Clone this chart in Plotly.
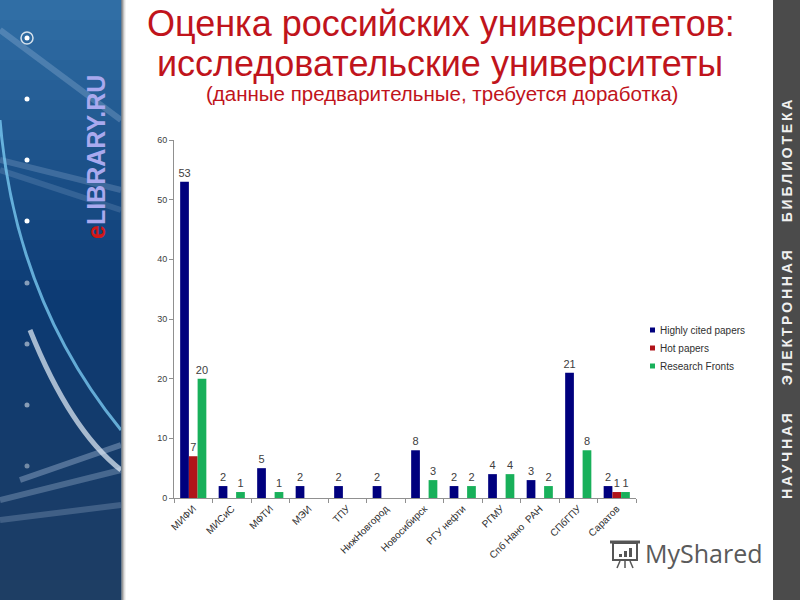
import plotly.graph_objects as go

categories = ["МИФИ", "МИСиС", "МФТИ", "МЭИ", "ТПУ", "НижНовгород", "Новосибирск",
              "РГУ нефти", "РГМУ", "Спб Нано  РАН", "СПбГПУ", "Саратов"]
highly_cited = [53, 2, 5, 2, 2, 2, 8, 2, 4, 3, 21, 2]
hot_papers = [7, 0, 0, 0, 0, 0, 0, 0, 0, 0, 0, 1]
research_fronts = [20, 1, 1, 0, 0, 0, 3, 2, 4, 2, 8, 1]
series_names = ["Highly cited papers", "Hot papers", "Research Fronts"]
colors = ["#00007E", "#B0141A", "#18B05A"]
y_ticks = [0, 10, 20, 30, 40, 50, 60]

# plot area in pixels
L, R, T, B = 174, 636, 140, 498
W, H = 800, 600


def px(x):
    return (x - L) / (R - L)


def py(y):
    return (B - y) / (B - T)


fig = go.Figure()
for name, vals, col in zip(series_names, [highly_cited, hot_papers, research_fronts], colors):
    fig.add_trace(go.Bar(
        x=categories, y=vals, name=name, marker=dict(color=col, line=dict(width=0)),
        text=[str(v) if v else "" for v in vals], textposition="outside", constraintext="none",
        textfont=dict(size=11, color="#404040", family="Arial"), cliponaxis=False,
        showlegend=False, hoverinfo="x+y+name",
    ))

shapes = []
# left decorative panel (vertical gradient bands)
top_c = (48, 110, 165)
mid_c = (12, 58, 115)
bot_c = (30, 62, 100)
n = 30
for i in range(n):
    t = i / (n - 1)
    if t < 0.5:
        a, b2, f = top_c, mid_c, t / 0.5
    else:
        a, b2, f = mid_c, bot_c, (t - 0.5) / 0.5
    c = tuple(int(a[k] + (b2[k] - a[k]) * f) for k in range(3))
    y0 = i * H / n
    y1 = (i + 1) * H / n + 1
    shapes.append(dict(type="rect", xref="paper", yref="paper", x0=px(0), x1=px(121),
                       y0=py(y1), y1=py(y0), fillcolor="rgb(%d,%d,%d)" % c, line=dict(width=0),
                       layer="below"))
# light streaks
streaks = [(0, 30, 121, 120, 0.2), (0, 160, 121, 190, 0.18), (0, 170, 121, 210, 0.14),
           (20, 480, 121, 445, 0.3), (0, 500, 121, 470, 0.25), (0, 520, 121, 505, 0.2)]
for x0, y0, x1, y1, op in streaks:
    shapes.append(dict(type="line", xref="paper", yref="paper", x0=px(x0), y0=py(y0), x1=px(x1), y1=py(y1),
                       line=dict(color="rgba(220,235,255,%.2f)" % op, width=6), layer="below"))
# arcs
arc = "M %f,%f Q %f,%f %f,%f" % (px(0), py(120), px(15), py(300), px(121), py(430))
shapes.append(dict(type="path", xref="paper", yref="paper", path=arc,
                   line=dict(color="rgba(120,200,240,0.8)", width=3), layer="below"))
arc2 = "M %f,%f Q %f,%f %f,%f" % (px(30), py(330), px(70), py(430), px(121), py(470))
shapes.append(dict(type="path", xref="paper", yref="paper", path=arc2,
                   line=dict(color="rgba(230,240,250,0.7)", width=5), layer="below"))
# dots
for (dx, dy, op) in [(27, 38, 1), (27, 99, 1), (27, 160, 1), (27, 221, 1), (27, 283, 0.5),
                     (27, 344, 0.5), (27, 405, 0.5), (27, 466, 0.4)]:
    shapes.append(dict(type="circle", xref="paper", yref="paper", x0=px(dx - 2.5), x1=px(dx + 2.5),
                       y0=py(dy + 2.5), y1=py(dy - 2.5), fillcolor="rgba(255,255,255,%.1f)" % op,
                       line=dict(width=0), layer="below"))
shapes.append(dict(type="circle", xref="paper", yref="paper", x0=px(21), x1=px(33),
                   y0=py(44), y1=py(32), line=dict(color="rgba(255,255,255,0.8)", width=1.5),
                   layer="below"))
# shadow line at panel edge
for i, c in enumerate(["#6f7f8f", "#9a9a9a", "#c0c0c0", "#e0e0e0", "#f2f2f2"]):
    shapes.append(dict(type="rect", xref="paper", yref="paper", x0=px(121 + i), x1=px(122 + i),
                       y0=py(H), y1=py(0), fillcolor=c, line=dict(width=0), layer="below"))
# right panel
shapes.append(dict(type="rect", xref="paper", yref="paper", x0=px(773), x1=px(W),
                   y0=py(H), y1=py(0), fillcolor="#4B4B4B", line=dict(width=0), layer="below"))

# MyShared icon
icon_col = "#555555"
shapes.append(dict(type="rect", xref="paper", yref="paper", x0=px(613), x1=px(637),
                   y0=py(560), y1=py(543), line=dict(color=icon_col, width=2)))
shapes.append(dict(type="line", xref="paper", yref="paper", x0=px(610), x1=px(640),
                   y0=py(542), y1=py(542), line=dict(color=icon_col, width=3)))
for bx, bh in [(619, 3), (624, 6), (629, 9)]:
    shapes.append(dict(type="rect", xref="paper", yref="paper", x0=px(bx), x1=px(bx + 3),
                       y0=py(557), y1=py(557 - bh), fillcolor=icon_col, line=dict(width=0)))
for lx0, lx1 in [(620, 617), (625, 625), (630, 633)]:
    shapes.append(dict(type="line", xref="paper", yref="paper", x0=px(lx0), x1=px(lx1),
                       y0=py(561), y1=py(568), line=dict(color=icon_col, width=1.5)))

annotations = []


def ann(text, x, y, size, color, family="Arial", angle=0, weight="normal", xanchor="center"):
    annotations.append(dict(text=text, x=px(x), y=py(y), xref="paper", yref="paper",
                            showarrow=False, textangle=angle, xanchor=xanchor, yanchor="middle",
                            font=dict(size=size, color=color, family=family, weight=weight)))


ann("Оценка российских университетов:", 441, 23, 36, "#C0141C")
ann("исследовательские университеты", 440, 63, 36, "#C0141C")
ann("(данные предварительные, требуется доработка)", 442, 94, 20.5, "#C0141C")
ann("<span style='color:#D01818'>e</span>LIBRARY.RU", 96, 157, 25, "#A9A9EE",
    family="Liberation Sans Narrow, Arial Narrow, Arial", angle=-90, weight="bold")
right_text = "\u2003\u2003".join("\u2009".join(w) for w in ["НАУЧНАЯ", "ЭЛЕКТРОННАЯ", "БИБЛИОТЕКА"])
ann(right_text, 787, 300, 14, "#F0F0F0", angle=-90, weight="bold")
ann("MyShared", 704, 553, 25, "#5A5A5A", family="Open Sans")

# manual legend
for i, (name, col) in enumerate(zip(series_names, colors)):
    yy = 330 + i * 18
    shapes.append(dict(type="rect", xref="paper", yref="paper", x0=px(650), x1=px(655),
                       y0=py(yy + 2.5), y1=py(yy - 2.5), fillcolor=col, line=dict(width=0)))
    ann(name, 658, yy, 10, "#303030", xanchor="left")

fig.update_layout(
    width=W, height=H, margin=dict(l=L, r=W - R, t=T, b=H - B, autoexpand=False),
    paper_bgcolor="white", plot_bgcolor="white",
    barmode="group", bargap=0.32, bargroupgap=0,
    shapes=shapes, annotations=annotations,
    showlegend=False,
    font=dict(family="Arial"),
    xaxis=dict(type="category", tickangle=-45, tickfont=dict(size=10, color="#303030"),
               showline=True, linecolor="#909090", linewidth=1, ticks="outside", tickson="boundaries",
               ticklen=4, tickcolor="#909090", automargin=False, showgrid=False),
    yaxis=dict(range=[0, 60], tickvals=y_ticks, tickfont=dict(size=9, color="#404040"),
               showline=True, linecolor="#909090", linewidth=1, ticks="outside", ticklen=4,
               tickcolor="#909090", showgrid=False, zeroline=False, automargin=False),
)

fig.write_html("out.html", config={"displayModeBar": False},
               post_script="document.body.style.margin='0';")
